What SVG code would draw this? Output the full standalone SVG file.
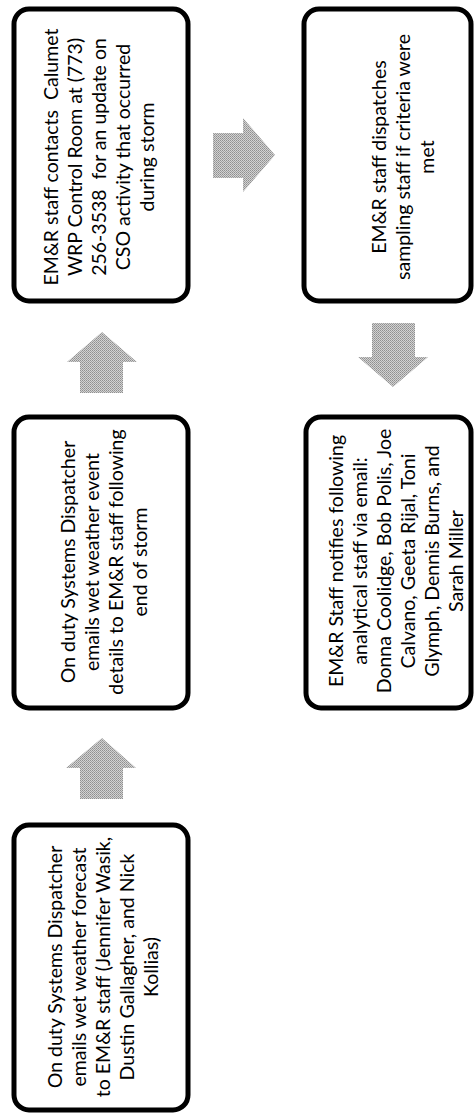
<svg xmlns="http://www.w3.org/2000/svg" width="474" height="1114" viewBox="0 0 474 1114">
<style>
.box{fill:#ffffff;stroke:#000000;stroke-width:5}
.t{font-family:Lato,"Liberation Sans",sans-serif;font-size:19.5px;fill:#000000;text-anchor:middle;white-space:pre}
.arr{fill:url(#dither);stroke:none}
</style>
<defs>
<pattern id="dither" width="2" height="2" patternUnits="userSpaceOnUse">
<rect width="2" height="2" fill="#d2d2d2"/>
<rect width="1" height="1" fill="#8f8f8f"/>
<rect x="1" y="1" width="1" height="1" fill="#a0a0a0"/>
</pattern>
</defs>
<rect width="474" height="1114" fill="#ffffff"/>
<g id="connectors">
<polygon class="arr" points="102,738 136,768 123,768 123,799 80,799 80,768 66,768"/>
<polygon class="arr" points="102,332 137,362 123,362 123,393 80,393 80,362 67,362"/>
<polygon class="arr" points="275,155 243,192 243,178 213,178 213,133 243,133 243,118"/>
<polygon class="arr" points="393,387 428,357 415,357 415,323 372,323 372,357 358,357"/>
</g>
<g id="node1">
<rect class="box" x="14" y="825" width="174" height="285" rx="15"/>
<g transform="translate(100,967) rotate(-90)">
<text class="t" x="0" y="-38">On duty Systems Dispatcher</text>
<text class="t" x="0" y="-14">emails wet weather forecast</text>
<text class="t" x="0" y="10">to EM&amp;R staff (Jennifer Wasik,</text>
<text class="t" x="0" y="34">Dustin Gallagher, and Nick</text>
<text class="t" x="0" y="58">Kollias)</text>
</g>
</g>
<g id="node2">
<rect class="box" x="14" y="417" width="174" height="291" rx="15"/>
<g transform="translate(100,562) rotate(-90)">
<text class="t" x="0" y="-25">On duty Systems Dispatcher</text>
<text class="t" x="0" y="-1">emails wet weather event</text>
<text class="t" x="0" y="23">details to EM&amp;R staff following</text>
<text class="t" x="0" y="47">end of storm</text>
</g>
</g>
<g id="node3">
<rect class="box" x="14" y="9" width="174" height="292" rx="15"/>
<g transform="translate(100,157) rotate(-90)">
<text class="t" x="0" y="-42">EM&amp;R staff contacts  Calumet</text>
<text class="t" x="0" y="-18">WRP Control Room at (773)</text>
<text class="t" x="0" y="6">256-3538  for an update on</text>
<text class="t" x="0" y="30">CSO activity that occurred</text>
<text class="t" x="0" y="54">during storm</text>
</g>
</g>
<g id="node4">
<rect class="box" x="304" y="9" width="167" height="292" rx="15"/>
<g transform="translate(388,157) rotate(-90)">
<text class="t" x="0" y="-2">EM&amp;R staff dispatches</text>
<text class="t" x="0" y="22">sampling staff if criteria were</text>
<text class="t" x="0" y="46">met</text>
</g>
</g>
<g id="node5">
<rect class="box" x="306" y="417" width="165" height="291" rx="15"/>
<g transform="translate(388,561) rotate(-90)">
<text class="t" x="0" y="-45">EM&amp;R Staff notifies following</text>
<text class="t" x="0" y="-21">analytical staff via email:</text>
<text class="t" x="0" y="3">Donna Coolidge, Bob Polis, Joe</text>
<text class="t" x="0" y="27">Calvano, Geeta Rijal, Toni</text>
<text class="t" x="0" y="51">Glymph, Dennis Burns, and</text>
<text class="t" x="0" y="75">Sarah Miller</text>
</g>
</g>
</svg>
